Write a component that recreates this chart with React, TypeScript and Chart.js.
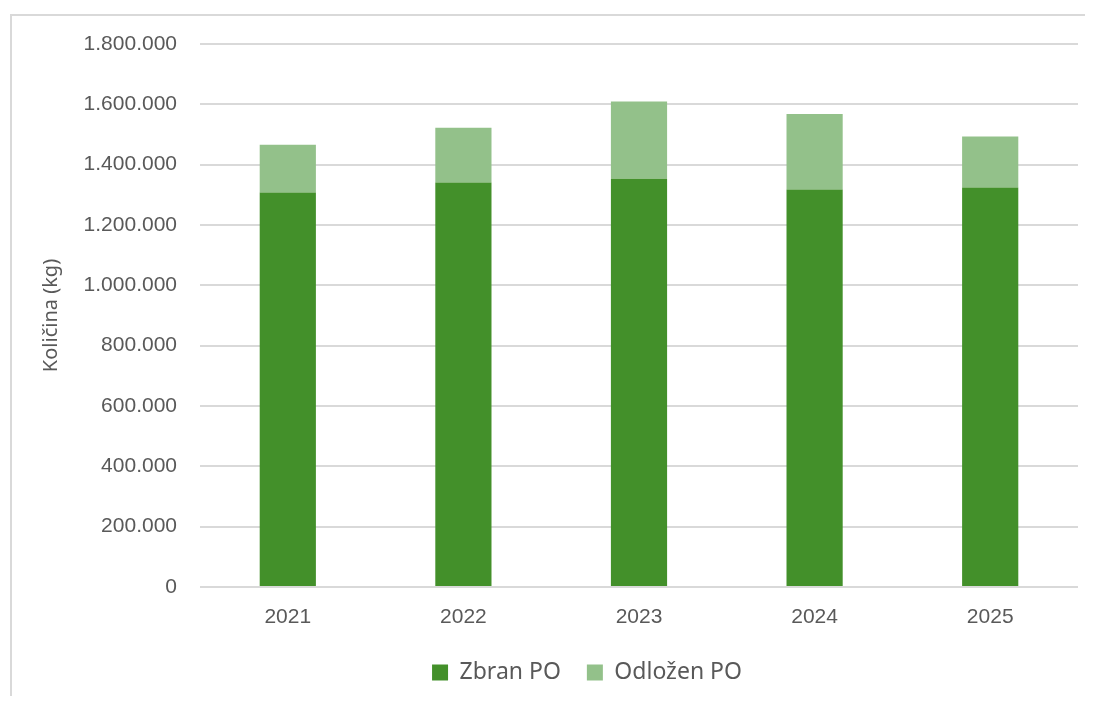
import React, { useEffect, useRef } from 'react';
import { Chart, registerables } from 'chart.js';

Chart.register(...registerables);

const years = ['2021', '2022', '2023', '2024', '2025'];
const zbranPO = [1308000, 1341000, 1353000, 1318000, 1324000];
const odlozenPO = [158000, 181000, 256000, 250000, 169000];
const yTicksMax = 1800000;
const yTickStep = 200000;

const fmt = (v: number) => String(Math.round(v)).replace(/\B(?=(\d{3})+(?!\d))/g, '.');

export default function App() {
  const ref = useRef<HTMLCanvasElement>(null);
  useEffect(() => {
    if (!ref.current) return;
    const legendShift = {
      id: 'legendShift',
      afterLayout(chart: any) {
        const lg = chart.legend;
        if (!lg) return;
        const target = 575;
        const dx = target - (lg.left + lg.right) / 2;
        lg.left += dx;
        lg.right += dx;
      },
    };
    const chart = new Chart(ref.current, {
      type: 'bar',
      data: {
        labels: years,
        datasets: [
          {
            label: 'Zbran PO',
            data: zbranPO,
            backgroundColor: '#43902a',
            categoryPercentage: 1,
            barPercentage: 0.32,
          },
          {
            label: 'Odložen PO',
            data: odlozenPO,
            backgroundColor: '#93c18a',
            categoryPercentage: 1,
            barPercentage: 0.32,
          },
        ],
      },
      options: {
        responsive: false,
        animation: false,
        layout: { padding: { top: 28, right: 15, left: 0, bottom: 10 } },
        plugins: {
          legend: {
            position: 'bottom',
            labels: {
              boxWidth: 16,
              boxHeight: 16,
              padding: 26,
              color: '#595959',
              font: { family: 'Noto Sans', size: 23 },
            },
          },
          tooltip: { enabled: false },
        },
        scales: {
          x: {
            stacked: true,
            grid: { display: false },
            border: { display: false },
            ticks: {
              color: '#595959',
              font: { family: 'Liberation Sans', size: 21 },
              padding: 10,
            },
            afterFit: (s: any) => {
              s.height = 48;
            },
          },
          y: {
            stacked: true,
            min: 0,
            max: yTicksMax,
            grid: { color: '#d9d9d9', lineWidth: 2, drawTicks: false },
            border: { display: false },
            ticks: {
              stepSize: yTickStep,
              color: '#595959',
              font: { family: 'Liberation Sans', size: 21 },
              padding: 23,
              callback: (v: any) => fmt(Number(v)),
            },
            title: {
              display: true,
              text: 'Količina (kg)',
              color: '#595959',
              font: { family: 'Noto Sans', size: 20 },
              padding: { top: 27, bottom: 0 },
            },
            afterFit: (s: any) => {
              s.width = 188;
              s.paddingTop = 0;
              s.paddingBottom = 0;
            },
          },
        },
      },
      plugins: [legendShift],
    });
    return () => chart.destroy();
  }, []);
  return (
    <div style={{ position: 'relative', width: 1085, height: 688, overflow: 'hidden' }}>
      <div
        style={{
          position: 'absolute',
          left: 2,
          top: 6,
          width: 1200,
          height: 800,
          border: '2px solid #d9d9d9',
          background: '#fff',
        }}
      >
        <canvas ref={ref} width={1081} height={688} style={{ display: 'block', width: 1081, height: 688 }} />
      </div>
    </div>
  );
}
